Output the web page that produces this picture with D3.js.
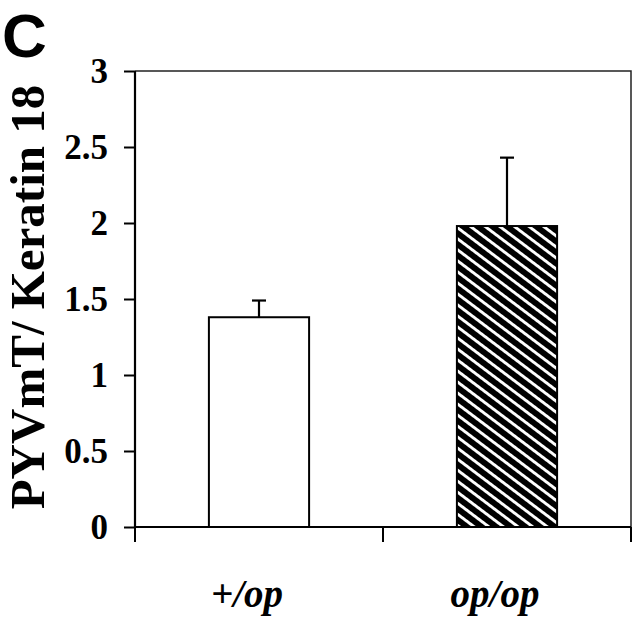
<!DOCTYPE html>
<html>
<head>
<meta charset="utf-8">
<script src="https://cdn.jsdelivr.net/npm/d3@7"></script>
<style>
  body { margin: 0; background: #fff; }
  svg { display: block; }
</style>
</head>
<body>
<div class="card"></div>
<script>
var Chart = (function (window, d3) {

    // data
    var categories = ["+/op", "op/op"];
    var means = [1.38, 1.98];
    var errors = [0.11, 0.45];
    var yTicks = [0, 0.5, 1, 1.5, 2, 2.5, 3];
    var yLabel = "PYVmT/ Keratin 18";
    var panelLetter = "C";

    var svgWidth = 640, svgHeight = 622;
    var margin = { top: 71, right: 9, bottom: 95, left: 135 };
    var width = svgWidth - margin.left - margin.right;
    var height = svgHeight - margin.top - margin.bottom;

    var svg = d3.select('.card').append('svg')
        .attr("width", svgWidth)
        .attr("height", svgHeight);

    // hatch for the second bar
    var defs = svg.append("defs");
    var pat = defs.append("pattern")
        .attr("id", "hatch")
        .attr("patternUnits", "userSpaceOnUse")
        .attr("width", 8.8)
        .attr("height", 8.8)
        .attr("patternTransform", "rotate(37)");
    pat.append("rect").attr("width", 8.8).attr("height", 8.8).attr("fill", "#000");
    pat.append("rect").attr("y", 0).attr("width", 8.8).attr("height", 2.9).attr("fill", "#fff");

    var g = svg.append("g")
        .attr("transform", `translate(${margin.left}, ${margin.top})`);

    var x = d3.scaleBand().domain(categories).range([0, width]).padding(0);
    var y = d3.scaleLinear().domain([0, 3]).range([height, 0]);
    var barW = x.bandwidth() * 0.404;

    // frame: top and right
    g.append("path")
        .attr("d", `M0,${y(3)}H${width}V${y(0)}`)
        .attr("fill", "none")
        .attr("stroke", "#222")
        .attr("stroke-width", 1.5);

    // bars
    g.selectAll(".bar")
        .data(categories)
        .enter().append("rect")
        .attr("class", "bar")
        .attr("x", (d) => x(d) + (x.bandwidth() - barW) / 2)
        .attr("width", barW)
        .attr("y", (d, i) => y(means[i]))
        .attr("height", (d, i) => y(0) - y(means[i]))
        .attr("fill", (d, i) => i === 0 ? "#fff" : "url(#hatch)")
        .attr("stroke", "#000")
        .attr("stroke-width", 2);

    // error bars (upper only)
    var eb = g.selectAll(".err")
        .data(categories)
        .enter().append("g")
        .attr("class", "err")
        .attr("stroke", "#000")
        .attr("stroke-width", 2.2);
    eb.append("line")
        .attr("x1", (d) => x(d) + x.bandwidth() / 2)
        .attr("x2", (d) => x(d) + x.bandwidth() / 2)
        .attr("y1", (d, i) => y(means[i]))
        .attr("y2", (d, i) => y(means[i] + errors[i]));
    eb.append("line")
        .attr("x1", (d) => x(d) + x.bandwidth() / 2 - 7)
        .attr("x2", (d) => x(d) + x.bandwidth() / 2 + 7)
        .attr("y1", (d, i) => y(means[i] + errors[i]))
        .attr("y2", (d, i) => y(means[i] + errors[i]));

    // y axis
    var yAxis = g.append("g")
        .call(d3.axisLeft(y).tickValues(yTicks).tickSize(11).tickPadding(16).tickFormat((d) => String(d)));
    yAxis.select(".domain").attr("stroke-width", 2.2).attr("d", `M0,${y(3)}V${y(0)}`);
    yAxis.selectAll(".tick line").attr("stroke-width", 2);
    yAxis.selectAll("text")
        .attr("font-family", "'Liberation Serif', 'Times New Roman', serif")
        .attr("font-weight", "bold")
        .attr("font-size", 35)
        .attr("fill", "#000");

    // x axis: boundary ticks + category labels
    var xAxis = g.append("g")
        .attr("transform", `translate(0, ${height})`);
    xAxis.append("line")
        .attr("x1", 0).attr("x2", width)
        .attr("stroke", "#000").attr("stroke-width", 2.2);
    var bounds = categories.map((d) => x(d)).concat([width]);
    xAxis.selectAll(".xt")
        .data(bounds)
        .enter().append("line")
        .attr("class", "xt")
        .attr("x1", (d) => d).attr("x2", (d) => d)
        .attr("y1", 0).attr("y2", 15)
        .attr("stroke", "#000").attr("stroke-width", 2);
    xAxis.selectAll(".xl")
        .data(categories)
        .enter().append("text")
        .attr("class", "xl")
        .attr("x", (d) => x(d) + x.bandwidth() / 2 - 12)
        .attr("y", 80)
        .attr("text-anchor", "middle")
        .attr("font-family", "'Liberation Serif', 'Times New Roman', serif")
        .attr("font-weight", "bold")
        .attr("font-style", "italic")
        .attr("font-size", 39)
        .text((d) => d);

    // y label
    svg.append("text")
        .attr("transform", `translate(44, ${margin.top + y(1.5) - 2}) rotate(-90)`)
        .attr("text-anchor", "middle")
        .attr("font-family", "'Liberation Serif', 'Times New Roman', serif")
        .attr("font-weight", "bold")
        .attr("font-size", 49)
        .text(yLabel);

    // panel letter
    svg.append("text")
        .attr("x", 2)
        .attr("y", 57)
        .attr("font-family", "'Liberation Sans', Arial, sans-serif")
        .attr("font-weight", "bold")
        .attr("font-size", 62)
        .text(panelLetter);

})(window, d3);
</script>
</body>
</html>
